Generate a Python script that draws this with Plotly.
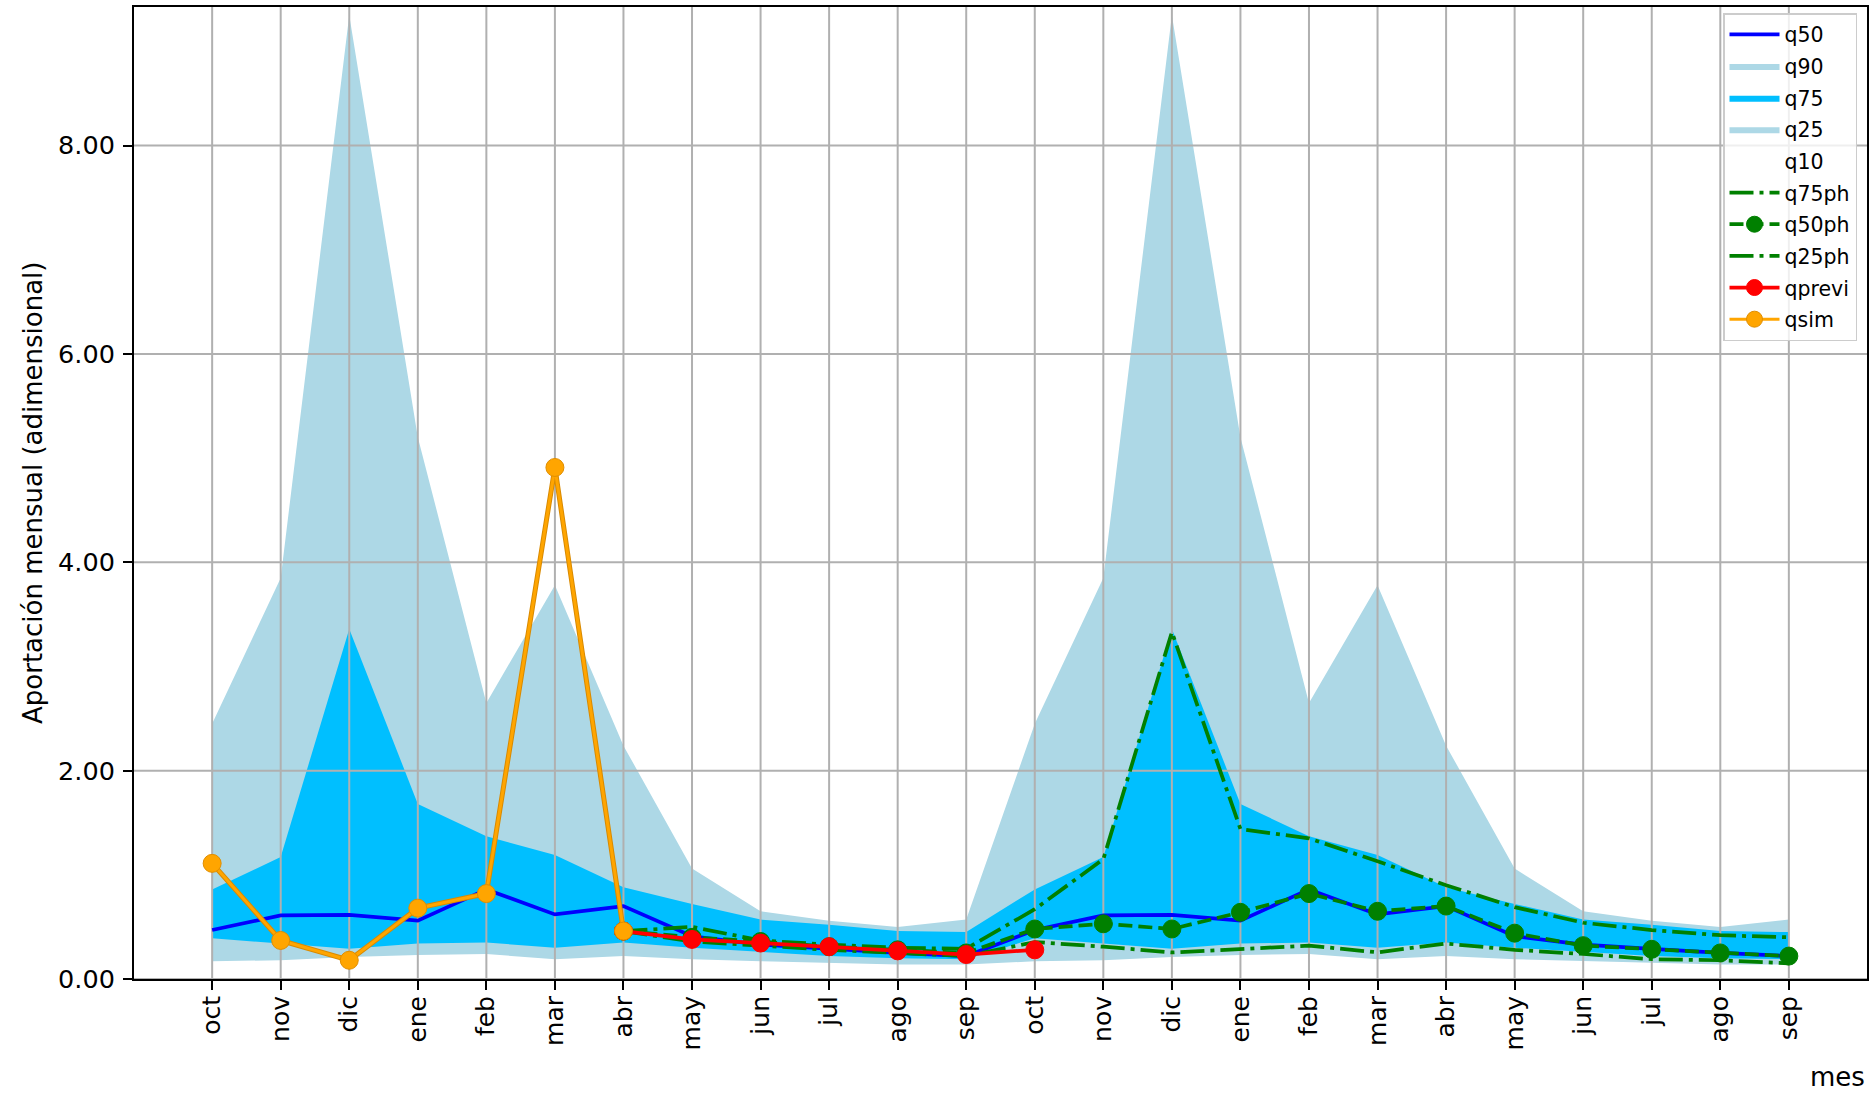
import plotly.graph_objects as go

# ---------------- data ----------------
months = ["oct", "nov", "dic", "ene", "feb", "mar", "abr", "may", "jun", "jul", "ago", "sep",
          "oct", "nov", "dic", "ene", "feb", "mar", "abr", "may", "jun", "jul", "ago", "sep"]

q90 = [2.45, 3.85, 9.25, 5.20, 2.65, 3.78, 2.24, 1.06, 0.65, 0.56, 0.50, 0.57,
       2.45, 3.85, 9.25, 5.20, 2.65, 3.78, 2.24, 1.06, 0.65, 0.56, 0.50, 0.57]
q75 = [0.86, 1.17, 3.36, 1.68, 1.37, 1.19, 0.88, 0.72, 0.57, 0.52, 0.46, 0.45,
       0.86, 1.17, 3.36, 1.68, 1.37, 1.19, 0.88, 0.72, 0.57, 0.52, 0.46, 0.45]
q25 = [0.39, 0.34, 0.29, 0.34, 0.35, 0.30, 0.35, 0.30, 0.26, 0.22, 0.20, 0.19,
       0.39, 0.34, 0.29, 0.34, 0.35, 0.30, 0.35, 0.30, 0.26, 0.22, 0.20, 0.19]
q10 = [0.17, 0.18, 0.21, 0.23, 0.24, 0.19, 0.22, 0.19, 0.17, 0.155, 0.14, 0.14,
       0.17, 0.18, 0.21, 0.23, 0.24, 0.19, 0.22, 0.19, 0.17, 0.155, 0.14, 0.14]
q50 = [0.47, 0.61, 0.615, 0.56, 0.86, 0.62, 0.70, 0.41, 0.33, 0.29, 0.25, 0.22,
       0.47, 0.61, 0.615, 0.56, 0.86, 0.62, 0.70, 0.41, 0.33, 0.29, 0.25, 0.22]

# forecast series (start at "abr" of the first year)
q75ph = [0.46, 0.50, 0.37, 0.33, 0.30, 0.29, 0.67, 1.15, 3.33, 1.44, 1.35, 1.13,
         0.90, 0.69, 0.54, 0.47, 0.42, 0.40]
q50ph = [0.46, 0.40, 0.36, 0.31, 0.28, 0.25, 0.48, 0.53, 0.48, 0.64, 0.82, 0.65,
         0.70, 0.44, 0.32, 0.285, 0.25, 0.22]
q25ph = [0.46, 0.36, 0.32, 0.28, 0.25, 0.22, 0.355, 0.31, 0.255, 0.29, 0.32, 0.256,
         0.34, 0.28, 0.24, 0.19, 0.18, 0.15]

qprevi = [0.46, 0.38, 0.345, 0.31, 0.27, 0.235, 0.28]          # abr .. oct
qsim = [1.11, 0.37, 0.18, 0.68, 0.82, 4.91, 0.46]              # oct .. abr

y_ticks = [0, 2, 4, 6, 8]

# ---------------- layout constants ----------------
W, H = 1872, 1096
L, R, T, B = 134, 1867, 7, 979
YMAX = 9.33
XMIN, XMAX = -1.14, 24.14
FONT = "DejaVu Sans"

x = list(range(len(months)))
x_sim = x[:len(qsim)]
x_prev = x[6:6 + len(qprevi)]
x_ph = x[6:6 + len(q75ph)]

fig = go.Figure()

def fill_trace(y, name, color, rank):
    return go.Scatter(x=x, y=y, name=name, mode="lines", fill="tozeroy",
                      fillcolor=color, line=dict(width=0, color=color),
                      legendrank=rank, legendgroup=name, hoverinfo="skip")

fig.add_trace(fill_trace(q90, "q90", "#ADD8E6", 2))
fig.add_trace(fill_trace(q75, "q75", "#00BFFF", 3))
fig.add_trace(fill_trace(q25, "q25", "#ADD8E6", 4))
fig.add_trace(fill_trace(q10, "q10", "#FFFFFF", 5))

# grid lines drawn above the fills but below the lines (matplotlib style)
gx, gy = [], []
for xi in x:
    gx += [xi, xi, None]
    gy += [0, YMAX, None]
for yt in y_ticks:
    gx += [XMIN, XMAX, None]
    gy += [yt, yt, None]
fig.add_trace(go.Scatter(x=gx, y=gy, mode="lines", line=dict(color="#b0b0b0", width=2),
                         showlegend=False, hoverinfo="skip"))

fig.add_trace(go.Scatter(x=x, y=q50, name="q50", mode="lines",
                         line=dict(color="#0000FF", width=3.75), legendrank=1, legendgroup="q50"))

DASHDOT = "24px,6px,4px,6px"
DASHED = "14px,6px"
fig.add_trace(go.Scatter(x=x_ph, y=q75ph, name="q75ph", mode="lines",
                         line=dict(color="#008000", width=3.75, dash=DASHDOT),
                         legendrank=6, legendgroup="q75ph"))
fig.add_trace(go.Scatter(x=x_ph, y=q50ph, name="q50ph", mode="lines+markers",
                         line=dict(color="#008000", width=3.75, dash=DASHED),
                         marker=dict(color="#008000", size=18, line=dict(width=1, color="#008000")),
                         legendrank=7, legendgroup="q50ph"))
fig.add_trace(go.Scatter(x=x_ph, y=q25ph, name="q25ph", mode="lines",
                         line=dict(color="#008000", width=3.75, dash=DASHDOT),
                         legendrank=8, legendgroup="q25ph"))
fig.add_trace(go.Scatter(x=x_prev, y=qprevi, name="qprevi", mode="lines+markers",
                         line=dict(color="#FF0000", width=3.75),
                         marker=dict(color="#FF0000", size=18, line=dict(width=1, color="#FF0000")),
                         legendrank=9, legendgroup="qprevi"))
fig.add_trace(go.Scatter(x=x_sim, y=qsim, mode="lines", showlegend=False, hoverinfo="skip",
                         line=dict(color="#D98A00", width=5)))
fig.add_trace(go.Scatter(x=x_sim, y=qsim, name="qsim", mode="lines+markers",
                         line=dict(color="#FFA500", width=3),
                         marker=dict(color="#FFA500", size=18, line=dict(width=1, color="#E08E00")),
                         legendrank=10, legendgroup="qsim"))

fig.update_layout(
    width=W, height=H,
    margin=dict(l=L, r=W - R, t=T, b=H - B, autoexpand=False),
    paper_bgcolor="white", plot_bgcolor="white",
    font=dict(family=FONT, color="black", size=25),
    showlegend=True,
    legend=dict(
        x=(1857 - L) / (R - L), y=(B - 13) / (B - T), xanchor="right", yanchor="top",
        bgcolor="rgba(255,255,255,0.8)", bordercolor="#cccccc", borderwidth=1.5,
        font=dict(family=FONT, size=20.5, color="black"),
        traceorder="grouped", tracegroupgap=2, itemwidth=50,
    ),
    xaxis=dict(
        range=[XMIN, XMAX], tickmode="array", tickvals=x, ticktext=months,
        tickangle=-90, showgrid=False, zeroline=False, automargin=False,
        showline=True, linecolor="black", linewidth=2, mirror=True,
        ticks="outside", ticklen=9, tickwidth=2, tickcolor="black",
        tickfont=dict(family=FONT, size=25, color="black"), ticklabelstandoff=-4,
    ),
    yaxis=dict(
        range=[0, YMAX], tickmode="array", tickvals=y_ticks,
        ticktext=[f"{v:.2f}" for v in y_ticks],
        showgrid=False, zeroline=False, automargin=False,
        showline=True, linecolor="black", linewidth=2, mirror=True,
        ticks="outside", ticklen=9, tickwidth=2, tickcolor="black",
        tickfont=dict(family=FONT, size=25.5, color="black"), ticklabelstandoff=3,
    ),
    annotations=[
        dict(text="Aportación mensual (adimensional)", textangle=-90,
             xref="paper", yref="paper", x=(33 - L) / (R - L), y=0.5,
             xanchor="center", yanchor="middle", showarrow=False,
             font=dict(family=FONT, size=26, color="black")),
        dict(text="mes", xref="paper", yref="paper", x=1.0,
             y=(B - 1077) / (B - T), xanchor="right", yanchor="middle",
             showarrow=False, font=dict(family=FONT, size=26, color="black")),
    ],
)

fig.write_html("out.html", config={"displayModeBar": False},
               post_script="document.body.style.margin='0px';document.body.style.overflow='hidden';")
